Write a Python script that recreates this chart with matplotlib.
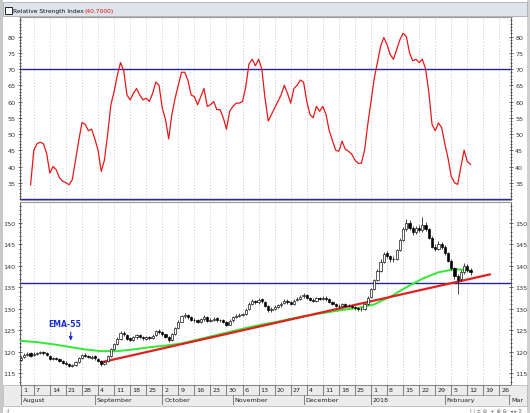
import matplotlib.pyplot as plt
import numpy as np
import pandas as pd
from matplotlib.patches import Rectangle
from matplotlib.ticker import FixedLocator, MultipleLocator

# trading days on the axis (Aug 1 2017 .. Mar 2 2018)
days = pd.bdate_range("2017-08-01", "2018-03-02")

# daily candles, one per trading day from Aug 1 2017
opens = [118.0, 118.7, 119.2, 119.6, 119.1, 119.4, 119.7, 119.9, 119.6, 119.0,
         118.3, 118.6, 118.2, 117.8, 117.4, 117.1, 116.6, 116.9, 117.6, 118.5,
         119.3, 119.0, 118.6, 118.9, 118.3, 117.8, 117.1, 117.7, 119.0, 120.5,
         121.8, 123.0, 124.4, 123.9, 123.1, 122.8, 123.3, 123.9, 123.4, 123.0,
         123.4, 123.1, 123.8, 124.9, 124.6, 124.0, 123.5, 122.7, 124.1, 125.6,
         127.0, 128.3, 128.5, 128.0, 127.4, 127.3, 126.9, 127.5, 128.1, 127.1,
         127.4, 127.8, 127.3, 127.4, 126.9, 126.3, 127.3, 128.1, 128.4, 128.6,
         128.8, 129.9, 131.2, 131.8, 131.5, 132.2, 131.6, 130.6, 129.6, 130.0,
         130.5, 130.8, 131.3, 131.9, 131.5, 131.2, 132.0, 132.3, 132.9, 133.2,
         132.6, 132.1, 131.9, 132.5, 132.3, 132.6, 132.2, 131.6, 131.2, 130.7,
         130.6, 131.1, 130.7, 130.6, 130.4, 130.1, 129.9, 130.0, 131.1, 132.7,
         134.6, 136.7, 138.9, 141.0, 142.9, 142.2, 141.5, 141.7, 143.7, 146.1,
         148.6, 150.0, 148.8, 147.8, 148.9, 148.3, 149.5, 148.6, 146.6, 144.5,
         144.0, 145.0, 144.5, 143.0, 141.2, 139.5, 137.6, 136.9, 138.6, 140.0,
         139.0]
highs = [119.0, 119.6, 119.9, 119.8, 119.8, 120.0, 120.2, 120.1, 119.8, 119.1,
         118.8, 118.8, 118.4, 118.0, 117.7, 117.3, 117.1, 117.9, 118.7, 119.5,
         119.6, 119.2, 119.2, 119.1, 118.5, 118.0, 117.9, 119.2, 120.9, 122.1,
         123.4, 124.7, 124.8, 124.1, 123.5, 123.7, 124.2, 124.1, 123.7, 123.7,
         123.6, 124.0, 125.1, 125.2, 124.9, 124.2, 123.7, 124.3, 125.8, 127.3,
         128.6, 128.9, 128.8, 128.3, 127.8, 127.6, 127.8, 128.5, 128.3, 127.8,
         128.1, 128.0, 127.7, 127.6, 127.1, 127.5, 128.4, 128.8, 128.9, 129.1,
         130.1, 131.5, 132.3, 132.1, 132.5, 132.5, 131.8, 130.8, 130.4, 130.8,
         131.2, 131.6, 132.3, 132.2, 131.8, 132.2, 132.7, 133.2, 133.6, 133.4,
         132.8, 132.4, 132.8, 132.8, 133.0, 132.9, 132.4, 131.9, 131.4, 131.0,
         131.4, 131.3, 131.0, 130.9, 130.6, 130.4, 130.3, 131.3, 132.9, 134.9,
         137.0, 139.2, 141.5, 143.3, 143.4, 142.6, 142.2, 144.0, 146.4, 149.0,
         150.9, 150.6, 149.3, 149.4, 149.6, 151.4, 150.2, 148.9, 146.9, 145.2,
         145.7, 145.5, 144.8, 143.3, 141.5, 139.8, 138.2, 139.0, 140.6, 140.4,
         139.4]
lows = [117.8, 118.5, 119.0, 118.8, 118.9, 119.2, 119.4, 119.3, 118.9, 118.0,
        118.0, 118.0, 117.5, 117.1, 116.9, 116.3, 116.3, 116.7, 117.4, 118.3,
        118.7, 118.4, 118.3, 118.1, 117.6, 116.7, 116.9, 117.5, 118.8, 120.3,
        121.5, 122.8, 123.6, 122.7, 122.4, 122.5, 123.0, 123.1, 122.8, 122.7,
        122.8, 122.9, 123.6, 124.2, 123.7, 123.1, 122.3, 122.5, 123.9, 125.4,
        126.8, 127.9, 127.7, 127.1, 126.9, 126.6, 126.6, 127.2, 126.9, 126.8,
        127.1, 127.0, 126.9, 126.6, 125.9, 126.1, 127.0, 127.8, 128.0, 128.2,
        128.6, 129.7, 130.9, 131.1, 131.2, 131.4, 130.3, 129.3, 129.3, 129.7,
        130.2, 130.5, 131.0, 131.2, 130.8, 130.9, 131.7, 132.0, 132.6, 132.3,
        131.8, 131.6, 131.6, 132.0, 132.0, 131.9, 131.3, 130.9, 130.4, 130.2,
        130.3, 130.4, 130.3, 130.1, 129.8, 129.5, 129.5, 129.8, 130.9, 132.5,
        134.3, 136.5, 138.6, 140.7, 141.8, 141.0, 141.0, 141.4, 143.4, 145.8,
        148.2, 148.3, 147.3, 147.4, 147.9, 148.0, 148.1, 146.2, 144.1, 143.4,
        143.7, 144.0, 142.6, 140.8, 139.0, 137.0, 133.4, 136.5, 138.2, 138.6,
        137.9]
closes = [118.6, 119.2, 119.5, 119.0, 119.5, 119.7, 119.8, 119.6, 119.1, 118.2,
          118.5, 118.3, 117.7, 117.4, 117.2, 116.6, 116.8, 117.6, 118.4, 119.2,
          119.0, 118.7, 118.8, 118.4, 117.9, 117.0, 117.6, 118.9, 120.6, 121.7,
          123.0, 124.3, 124.0, 123.0, 122.8, 123.3, 123.8, 123.4, 123.1, 123.3,
          123.1, 123.7, 124.8, 124.6, 124.0, 123.4, 122.6, 124.0, 125.5, 127.0,
          128.2, 128.4, 128.0, 127.4, 127.3, 126.9, 127.5, 128.1, 127.2, 127.4,
          127.7, 127.3, 127.3, 126.9, 126.2, 127.2, 128.1, 128.4, 128.5, 128.7,
          129.8, 131.1, 131.8, 131.5, 132.1, 131.7, 130.6, 129.6, 130.0, 130.4,
          130.8, 131.2, 131.9, 131.5, 131.1, 131.9, 132.3, 132.8, 133.2, 132.6,
          132.1, 131.9, 132.5, 132.3, 132.6, 132.2, 131.6, 131.2, 130.7, 130.6,
          131.1, 130.7, 130.6, 130.4, 130.1, 129.9, 129.9, 131.0, 132.6, 134.6,
          136.6, 138.8, 141.0, 142.8, 142.2, 141.5, 141.6, 143.6, 146.0, 148.5,
          150.0, 148.8, 147.8, 148.8, 148.3, 149.5, 148.6, 146.6, 144.5, 144.0,
          145.0, 144.5, 143.0, 141.2, 139.5, 137.6, 136.8, 138.6, 140.0, 139.0,
          138.5]

# RSI values from the 4th trading day on
rsi_start = 3
rsi = [34.4, 45.0, 47.0, 47.5, 47.0, 44.0, 38.0, 40.0, 39.0, 36.5,
       35.5, 35.0, 34.4, 36.0, 42.0, 48.0, 53.5, 53.0, 51.0, 51.5,
       48.5, 45.0, 38.5, 42.0, 50.0, 59.0, 63.0, 68.0, 72.0, 69.5,
       62.0, 60.5, 62.5, 64.0, 62.0, 60.5, 61.0, 60.0, 62.5, 66.0,
       65.0, 58.0, 54.5, 48.5, 56.0, 61.0, 65.0, 69.0, 69.0, 66.5,
       62.0, 61.5, 59.0, 61.5, 64.0, 58.5, 59.0, 60.0, 57.5, 57.5,
       55.0, 51.5, 57.0, 58.5, 59.5, 59.5, 60.0, 64.5, 71.5, 73.0,
       71.0, 73.0, 70.0, 61.0, 54.0, 56.0, 58.0, 60.0, 62.0, 65.0,
       62.5, 59.5, 64.0, 65.0, 66.6, 66.0, 60.0, 56.0, 55.0, 58.5,
       57.0, 58.5, 56.0, 51.0, 48.0, 45.0, 44.7, 47.8, 45.3, 44.7,
       43.8, 42.0, 41.0, 41.0, 45.0, 53.0, 60.0, 67.0, 72.0, 77.0,
       79.7, 77.5, 74.4, 73.0, 76.0, 79.0, 81.0, 80.0, 75.0, 72.5,
       73.0, 72.0, 73.0, 70.0, 63.0, 53.0, 51.0, 53.4, 52.0, 47.0,
       42.5, 37.0, 35.0, 34.5, 40.0, 45.0, 41.5, 40.7]
rsi_levels = [70, 30]

# EMA-55 read at a few trading days
ema_days = [0, 5, 10, 15, 20, 25, 30, 35, 40, 45, 50, 55, 60, 65, 70, 75, 80,
            85, 90, 95, 100, 105, 110, 115, 120, 125, 130, 135, 138, 140]
ema = [122.5, 122.2, 121.7, 121.1, 120.5, 120.1, 120.1, 120.5, 121.0, 121.4,
       121.9, 122.8, 123.7, 124.6, 125.5, 126.3, 127.0, 127.8, 128.5, 129.1,
       129.7, 130.2, 131.0, 132.8, 135.0, 137.0, 138.5, 139.2, 139.1, 138.8]

trend_days = [25, 146]
trend = [117.5, 138.0]
support = 136.0

week_ticks = ["2017-08-01", "2017-08-07", "2017-08-14", "2017-08-21", "2017-08-28",
              "2017-09-04", "2017-09-11", "2017-09-18", "2017-09-25", "2017-10-02",
              "2017-10-09", "2017-10-16", "2017-10-23", "2017-10-30", "2017-11-06",
              "2017-11-13", "2017-11-20", "2017-11-27", "2017-12-04", "2017-12-11",
              "2017-12-18", "2017-12-25", "2018-01-01", "2018-01-08", "2018-01-15",
              "2018-01-22", "2018-01-29", "2018-02-05", "2018-02-12", "2018-02-19",
              "2018-02-26"]
month_names = ["August", "September", "October", "November", "December",
               "2018", "February", "Mar"]
month_starts = ["2017-08-01", "2017-09-01", "2017-10-02", "2017-11-01", "2017-12-01",
                "2018-01-01", "2018-02-01", "2018-03-01"]

W, H = 530, 414
BLUE = "#23239a"
FONT = ["Liberation Sans Narrow", "DejaVu Sans"]
plt.rcParams["font.family"] = FONT


def box(x0, y0, x1, y1):
    return [x0 / W, 1 - y1 / H, (x1 - x0) / W, (y1 - y0) / H]


def pos(d):
    return days.get_loc(pd.Timestamp(d))


def fig_rect(x0, y0, x1, y1, **kw):
    fig.patches.append(Rectangle((x0 / W, 1 - y1 / H), (x1 - x0) / W, (y1 - y0) / H,
                                 transform=fig.transFigure, zorder=-5, **kw))


fig = plt.figure(figsize=(W / 100, H / 100), dpi=100)
fig.patch.set_facecolor("white")

# window chrome
fig_rect(0, 0, 3, 414, facecolor="#c8c8c8", edgecolor="none")
fig_rect(527, 0, 530, 414, facecolor="#d0d0d0", edgecolor="none")
fig_rect(3, 3, 527, 17, facecolor="#dfe3ea", edgecolor="#a8adb8", lw=0.6)
fig_rect(5, 8, 12, 15, facecolor="white", edgecolor="#222222", lw=0.7)
fig_rect(3, 386, 527, 407, facecolor="#ececec", edgecolor="#b0b0b0", lw=0.5)

t = fig.text(13 / W, 1 - 11 / H, "Relative Strength Index", fontsize=4.3,
             va="center", ha="left", color="#111111")
fig.canvas.draw()
bb = t.get_window_extent()
fig.text(bb.x1 / W + 1 / W, 1 - 11 / H, "(%.4f)" % rsi[-1], fontsize=4.3,
         va="center", ha="left", color="#e01010")
fig.text(6 / W, 1 - 411 / H, "‹|", fontsize=4, color="#777777", va="center")
fig.text(522 / W, 1 - 411 / H, "| ⁞ ± ⊖  + ⊕ ⊖  ◂ ▸ Σ", fontsize=3.8,
         color="#666666", va="center", ha="right", family=["DejaVu Sans"])

ax1 = fig.add_axes(box(20, 18, 511, 201))
ax2 = fig.add_axes(box(20, 203, 511, 386))
ax3 = fig.add_axes(box(20, 386, 511, 406))
ax3.set_zorder(5)

xmin, xmax = -0.3, 152.6
week_pos = [pos(d) for d in week_ticks]

for ax in (ax1, ax2):
    ax.set_xlim(xmin, xmax)
    ax.set_facecolor("white")
    ax.set_xticks(week_pos)
    ax.tick_params(axis="x", length=0, labelbottom=False)
    ax.grid(axis="x", color="#b8b8b8", lw=0.6, ls=(0, (1, 2.5)))
    ax.yaxis.set_minor_locator(MultipleLocator(1))
    ax.tick_params(axis="y", which="both", left=True, right=True,
                   labelleft=True, labelright=True, direction="inout",
                   width=0.5, color="#333333", labelsize=4.6, pad=1.5,
                   labelcolor="#333333")
    ax.tick_params(axis="y", which="major", length=3)
    ax.tick_params(axis="y", which="minor", length=1.4)
    for s in ("left", "right"):
        ax.spines[s].set_color("#444444")
        ax.spines[s].set_linewidth(0.6)
    for s in ("top", "bottom"):
        ax.spines[s].set_color("#9a9a9a")
        ax.spines[s].set_linewidth(0.8)

# RSI panel
ax1.set_ylim(29.7, 86.0)
ax1.yaxis.set_major_locator(FixedLocator(list(range(35, 85, 5))))
for lv in rsi_levels:
    ax1.axhline(lv, color=BLUE, lw=1.0)
ax1.plot(range(rsi_start, rsi_start + len(rsi)), rsi, color="#e81818", lw=0.9)

# price panel
ax2.set_ylim(112.2, 154.9)
ax2.yaxis.set_major_locator(FixedLocator(list(range(115, 155, 5))))
ax2.axhline(support, color=BLUE, lw=1.0)
ax2.plot(ema_days, ema, color="#33e833", lw=1.4, zorder=3)
ax2.plot(trend_days, trend, color="#e02020", lw=1.6, zorder=4)
for i, (o, h, l, c) in enumerate(zip(opens, highs, lows, closes)):
    ax2.vlines(i, l, h, color="black", lw=0.5, zorder=5)
    lo, hi = min(o, c), max(o, c)
    ax2.add_patch(Rectangle((i - 0.35, lo), 0.7, max(hi - lo, 0.12),
                            facecolor="white" if c >= o else "black",
                            edgecolor="black", lw=0.45, zorder=6))
ax2.text(13.5, 125.6, "EMA-55", color="#1a2fd0", fontsize=5.6,
         fontweight="bold", ha="center", va="bottom", family=["DejaVu Sans"])
ax2.annotate("", xy=(15.5, 121.9), xytext=(15.5, 125.2),
             arrowprops=dict(arrowstyle="-|>", color="#1a2fd0", lw=0.8,
                             mutation_scale=5))

# date labels
ax3.set_xlim(xmin, xmax)
ax3.set_ylim(0, 1)
ax3.axis("off")
ax3.axhline(0.52, color="#888888", lw=0.5)
ax3.axhline(1.0, color="#888888", lw=0.6)
for d, p in zip(week_ticks, week_pos):
    ax3.plot([p, p], [0.52, 1.0], color="#555555", lw=0.5)
    ax3.text(p + 0.6, 0.76, str(pd.Timestamp(d).day), fontsize=4.6,
             color="#222222", ha="left", va="center")
for name, d in zip(month_names, month_starts):
    p = pos(d)
    ax3.plot([p, p], [0.0, 0.52], color="#555555", lw=0.5)
    ax3.text(p + 0.6, 0.26, name, fontsize=4.6, color="#222222",
             ha="left", va="center")

fig.savefig("out.png", dpi=100, facecolor=fig.get_facecolor())
